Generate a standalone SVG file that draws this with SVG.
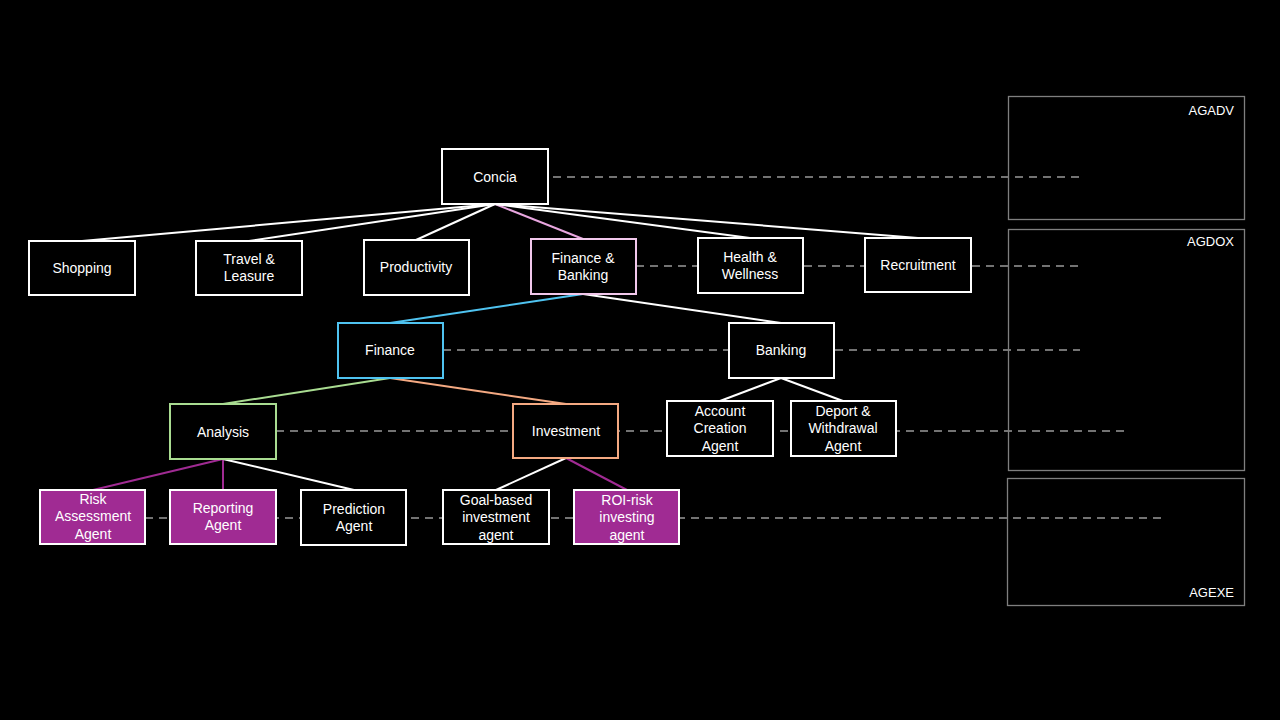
<svg xmlns="http://www.w3.org/2000/svg" width="1280" height="720" viewBox="0 0 1280 720">
<style>
.n{fill:#000;stroke:#fff;stroke-width:2}
.p{fill:#a02b93;stroke:#fff;stroke-width:2}
.t{fill:#fff;font-family:"Liberation Sans",Arial,sans-serif;font-size:14px;text-anchor:middle;dominant-baseline:central}
.c{stroke:#fff;stroke-width:2;fill:none}
.d{stroke:#737373;stroke-width:2;stroke-dasharray:8 6;fill:none}
.pan{fill:none;stroke:#7f7f7f;stroke-width:1.3}
.pt{fill:#fff;font-family:"Liberation Sans",Arial,sans-serif;font-size:13px;text-anchor:end}
</style>
<rect width="1280" height="720" fill="#000"/>
<g id="dashes">
<line class="d" x1="553" y1="177" x2="1080" y2="177"/>
<line class="d" x1="636" y1="266" x2="1080" y2="266"/>
<line class="d" x1="443" y1="350" x2="1080" y2="350"/>
<line class="d" x1="276" y1="431" x2="1128" y2="431"/>
<line class="d" x1="145" y1="518" x2="1165" y2="518"/>
</g>
<g id="panels">
<g id="agadv"><rect class="pan" x="1008.5" y="96.5" width="236" height="123"/><text class="pt" x="1234" y="115">AGADV</text></g>
<g id="agdox"><rect class="pan" x="1008.5" y="229.5" width="236" height="241"/><text class="pt" x="1234" y="246">AGDOX</text></g>
<g id="agexe"><rect class="pan" x="1007.5" y="478.5" width="237" height="127"/><text class="pt" x="1234" y="597">AGEXE</text></g>
</g>
<g id="connectors">
<line class="c" x1="495" y1="204" x2="82" y2="241"/>
<line class="c" x1="495" y1="204" x2="249" y2="241"/>
<line class="c" x1="495" y1="204" x2="416" y2="240"/>
<line class="c" x1="495" y1="204" x2="583" y2="239" style="stroke:#e8a6df"/>
<line class="c" x1="495" y1="204" x2="750" y2="238"/>
<line class="c" x1="495" y1="204" x2="918" y2="238"/>
<line class="c" x1="583" y1="294" x2="390" y2="323" style="stroke:#4fc3f0"/>
<line class="c" x1="583" y1="294" x2="781" y2="323"/>
<line class="c" x1="390" y1="378" x2="223" y2="404" style="stroke:#a9dc91"/>
<line class="c" x1="390" y1="378" x2="566" y2="404" style="stroke:#f4a982"/>
<line class="c" x1="781" y1="378" x2="720" y2="401"/>
<line class="c" x1="781" y1="378" x2="843" y2="401"/>
<line class="c" x1="223" y1="459" x2="93" y2="490" style="stroke:#a02b93"/>
<line class="c" x1="223" y1="459" x2="223" y2="490" style="stroke:#a02b93"/>
<line class="c" x1="223" y1="459" x2="354" y2="490"/>
<line class="c" x1="566" y1="458" x2="496" y2="490"/>
<line class="c" x1="566" y1="458" x2="627" y2="490" style="stroke:#a02b93"/>
</g>
<g id="concia"><rect class="n" x="442" y="149" width="106" height="55"/><text class="t" x="495" y="177">Concia</text></g>
<g id="shopping"><rect class="n" x="29" y="241" width="106" height="54"/><text class="t" x="82" y="268">Shopping</text></g>
<g id="travel"><rect class="n" x="196" y="241" width="106" height="54"/><text class="t" x="249" y="259">Travel &amp;</text><text class="t" x="249" y="276">Leasure</text></g>
<g id="productivity"><rect class="n" x="364" y="240" width="105" height="55"/><text class="t" x="416" y="267">Productivity</text></g>
<g id="finbank"><rect class="n" x="531" y="239" width="105" height="55" style="stroke:#f2c8ec"/><text class="t" x="583" y="258">Finance &amp;</text><text class="t" x="583" y="275">Banking</text></g>
<g id="health"><rect class="n" x="698" y="238" width="105" height="55"/><text class="t" x="750" y="257">Health &amp;</text><text class="t" x="750" y="274">Wellness</text></g>
<g id="recruitment"><rect class="n" x="865" y="238" width="106" height="54"/><text class="t" x="918" y="265">Recruitment</text></g>
<g id="finance"><rect class="n" x="338" y="323" width="105" height="55" style="stroke:#4fc3f0"/><text class="t" x="390" y="350">Finance</text></g>
<g id="banking"><rect class="n" x="729" y="323" width="105" height="55"/><text class="t" x="781" y="350">Banking</text></g>
<g id="analysis"><rect class="n" x="170" y="404" width="106" height="55" style="stroke:#a9dc91"/><text class="t" x="223" y="432">Analysis</text></g>
<g id="investment"><rect class="n" x="513" y="404" width="105" height="54" style="stroke:#f4a982"/><text class="t" x="566" y="431">Investment</text></g>
<g id="account"><rect class="n" x="667" y="401" width="106" height="55"/><text class="t" x="720" y="411">Account</text><text class="t" x="720" y="428">Creation</text><text class="t" x="720" y="446">Agent</text></g>
<g id="deport"><rect class="n" x="791" y="401" width="105" height="55"/><text class="t" x="843" y="411">Deport &amp;</text><text class="t" x="843" y="428">Withdrawal</text><text class="t" x="843" y="446">Agent</text></g>
<g id="risk"><rect class="p" x="40" y="490" width="105" height="54"/><text class="t" x="93" y="499">Risk</text><text class="t" x="93" y="516">Assessment</text><text class="t" x="93" y="534">Agent</text></g>
<g id="reporting"><rect class="p" x="170" y="490" width="106" height="54"/><text class="t" x="223" y="508">Reporting</text><text class="t" x="223" y="525">Agent</text></g>
<g id="prediction"><rect class="n" x="301" y="490" width="105" height="55"/><text class="t" x="354" y="509">Prediction</text><text class="t" x="354" y="526">Agent</text></g>
<g id="goal"><rect class="n" x="443" y="490" width="106" height="54"/><text class="t" x="496" y="500">Goal-based</text><text class="t" x="496" y="517">investment</text><text class="t" x="496" y="535">agent</text></g>
<g id="roi"><rect class="p" x="574" y="490" width="105" height="54"/><text class="t" x="627" y="500">ROI-risk</text><text class="t" x="627" y="517">investing</text><text class="t" x="627" y="535">agent</text></g>
</svg>
